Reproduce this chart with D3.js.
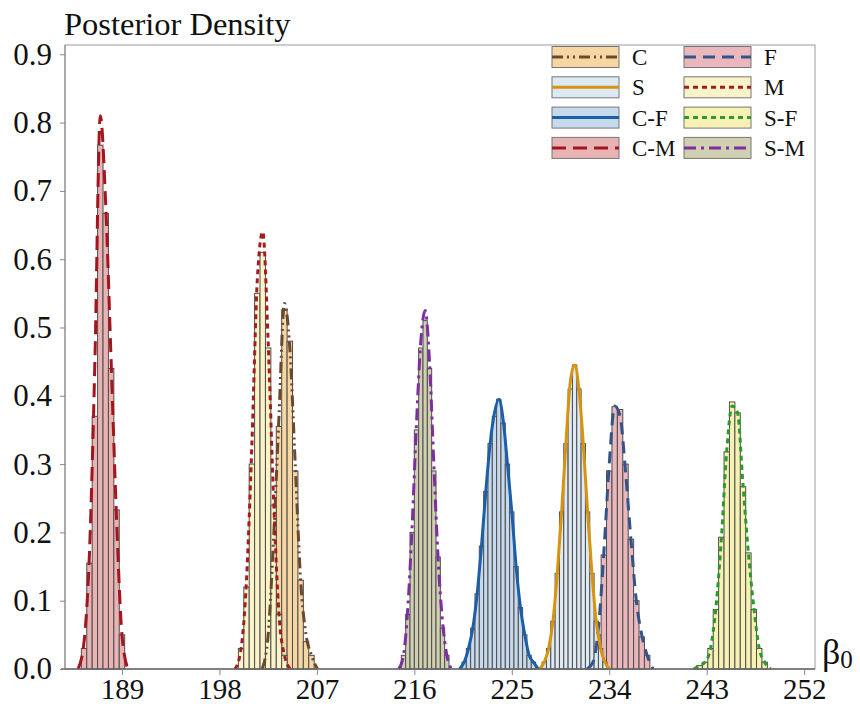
<!DOCTYPE html>
<html><head><meta charset="utf-8">
<script src="https://cdn.jsdelivr.net/npm/d3@7"></script>
<style>body{margin:0;background:#fff}text{font-family:"Liberation Serif","Times New Roman",serif;fill:#111}</style>
</head><body>
<svg id="chart" width="860" height="704"></svg>
<script>
// Posterior density of the intercept β0 under each model: binned draws plus a smoothed density line.
const seriesNames = ["C", "F", "S", "M", "C-F", "S-F", "C-M", "S-M"];
const binStarts   = [202.25, 232.25, 227.8, 199.75, 220.4, 242.1, 185.25, 214.8];
const binWidths   = [0.5, 0.5, 0.4, 0.5, 0.4, 0.5, 0.5, 0.4];

// bar heights (density) per series, left to right
const barsC  = [0.05, 0.20, 0.355, 0.526, 0.48, 0.29, 0.13, 0.04, 0.02];
const barsF  = [0.01, 0.05, 0.167, 0.29, 0.384, 0.38, 0.30, 0.19, 0.10, 0.047, 0.02];
const barsS  = [0.01, 0.03, 0.07, 0.14, 0.23, 0.33, 0.41, 0.445, 0.41, 0.33, 0.23, 0.14, 0.07, 0.03, 0.01];
const barsM  = [0.03, 0.12, 0.30, 0.55, 0.61, 0.47, 0.24, 0.08, 0.02];
const barsCF = [0.01, 0.03, 0.06, 0.11, 0.18, 0.26, 0.33, 0.37, 0.395, 0.36, 0.30, 0.23, 0.15, 0.09, 0.05, 0.02, 0.01];
const barsSF = [0.005, 0.01, 0.03, 0.087, 0.193, 0.318, 0.391, 0.375, 0.267, 0.17, 0.087, 0.03, 0.01];
const barsCM = [0.03, 0.155, 0.37, 0.767, 0.667, 0.44, 0.233, 0.05];
const barsSM = [0.02, 0.08, 0.20, 0.35, 0.47, 0.51, 0.44, 0.29, 0.164, 0.06, 0.02];

// smoothed density evaluated at each bin centre
const curveC  = [0.05, 0.19, 0.37, 0.535, 0.47, 0.30, 0.13, 0.05, 0.02];
const curveF  = [0.01, 0.06, 0.17, 0.30, 0.385, 0.37, 0.29, 0.19, 0.10, 0.05, 0.02];
const curveS  = [0.01, 0.03, 0.07, 0.14, 0.23, 0.33, 0.42, 0.445, 0.41, 0.33, 0.23, 0.14, 0.07, 0.03, 0.01];
const curveM  = [0.03, 0.13, 0.33, 0.57, 0.64, 0.48, 0.25, 0.08, 0.02];
const curveCF = [0.01, 0.03, 0.06, 0.11, 0.18, 0.26, 0.33, 0.375, 0.395, 0.365, 0.30, 0.23, 0.15, 0.09, 0.05, 0.02, 0.01];
const curveSF = [0.005, 0.01, 0.03, 0.09, 0.19, 0.32, 0.385, 0.375, 0.27, 0.17, 0.09, 0.03, 0.01];
const curveCM = [0.04, 0.17, 0.45, 0.81, 0.68, 0.45, 0.22, 0.05];
const curveSM = [0.02, 0.09, 0.21, 0.36, 0.48, 0.525, 0.45, 0.30, 0.16, 0.07, 0.02];

const xTicks = [189, 198, 207, 216, 225, 234, 243, 252];
const yTicks = [0, 0.1, 0.2, 0.3, 0.4, 0.5, 0.6, 0.7, 0.8, 0.9];

const fills  = ["#f6d7a3", "#e9b7bc", "#dde9f3", "#fbf4c9", "#c7d9ed", "#f8f1b4", "#e8b3b3", "#cfcfb1"];
const lines  = ["#6a4a2e", "#33548a", "#d8930f", "#a31d1d", "#1d5ea9", "#2c9a2a", "#a3151f", "#7e2e9e"];
const dashes = ["11,4,2,4,2,4", "12,7", null, "5,4", null, "5,4", "14,7", "12,5,3,5"];

const barSets   = [barsC, barsF, barsS, barsM, barsCF, barsSF, barsCM, barsSM];
const curveSets = [curveC, curveF, curveS, curveM, curveCF, curveSF, curveCM, curveSM];

const series = seriesNames.map((name, i) => {
  const w = binWidths[i], lo = binStarts[i];
  const bins = barSets[i].map((h, k) => ({x0: lo + k * w, x1: lo + (k + 1) * w, h}));
  const n = curveSets[i].length;
  const pts = [{x: lo - 0.6 * w, y: 0}]
    .concat(curveSets[i].map((v, k) => ({x: lo + (k + 0.5) * w, y: v})))
    .concat([{x: lo + (n + 0.6) * w, y: 0}]);
  return {name, bins, pts, fill: fills[i], line: lines[i], dash: dashes[i]};
});

const svg = d3.select("#chart");
const pLeft = 65, pRight = 815, pTop = 45, pBottom = 669;
const x = d3.scaleLinear().domain([183.74, 253.0]).range([pLeft, pRight]);
const y = d3.scaleLinear().domain([0, 0.9136]).range([pBottom, pTop]);

// frame
svg.append("rect").attr("x", pLeft).attr("y", pTop).attr("width", pRight - pLeft).attr("height", pBottom - pTop)
  .attr("fill", "none").attr("stroke", "#9a9a9a").attr("stroke-width", 1);

const plot = svg.append("g");

// histogram bars
series.forEach(s => {
  plot.append("g").selectAll("rect").data(s.bins).join("rect")
    .attr("x", d => x(d.x0)).attr("width", d => x(d.x1) - x(d.x0))
    .attr("y", d => y(d.h)).attr("height", d => y(0) - y(d.h))
    .attr("fill", s.fill).attr("stroke", "#4d4d4d").attr("stroke-width", 1);
});

// density lines
const lineGen = d3.line().x(d => x(d.x)).y(d => y(d.y)).curve(d3.curveMonotoneX);
series.forEach(s => {
  plot.append("path").datum(s.pts).attr("d", lineGen)
    .attr("fill", "none").attr("stroke", s.line).attr("stroke-width", 3)
    .attr("stroke-dasharray", s.dash);
});

// axes
const xAxis = d3.axisBottom(x).tickValues(xTicks).tickSize(6).tickPadding(3).tickFormat(d3.format("d"));
const gx = svg.append("g").attr("transform", `translate(0,${pBottom})`).call(xAxis);
gx.select(".domain").attr("stroke", "#666").attr("stroke-width", 1.5).attr("d", `M${pLeft - 4},0H${pRight}`);
gx.selectAll(".tick line").attr("stroke", "#888");
gx.selectAll(".tick text").style("font-size", "29px").style("font-family", "Liberation Serif").attr("fill", "#111");

const yAxis = d3.axisLeft(y).tickValues(yTicks).tickSize(5).tickPadding(8).tickFormat(d3.format(".1f"));
const gy = svg.append("g").attr("transform", `translate(${pLeft},0)`).call(yAxis);
gy.select(".domain").attr("stroke", "#888").attr("d", `M0,${pBottom}V${pTop}`);
gy.selectAll(".tick line").attr("stroke", "#888");
gy.selectAll(".tick text").style("font-size", "31px").style("font-family", "Liberation Serif").attr("fill", "#111");

// axis titles
svg.append("text").attr("x", 64).attr("y", 35).style("font-size", "32.5px").text("Posterior Density");
const bt = svg.append("text").attr("x", 822).attr("y", 664).style("font-size", "36px");
bt.append("tspan").text("β");
bt.append("tspan").attr("dy", 4).style("font-size", "25px").text("0");

// legend: two columns, filled swatch with the line style across it
const legend = svg.append("g");
series.forEach((s, i) => {
  const col = i % 2, row = Math.floor(i / 2);
  const lx = col === 0 ? 552 : 684;
  const cy = 57 + row * 30.3;
  const g = legend.append("g");
  g.append("rect").attr("x", lx).attr("y", cy - 10.5).attr("width", 67).attr("height", 21)
    .attr("fill", s.fill).attr("stroke", "#777").attr("stroke-width", 1);
  g.append("line").attr("x1", lx).attr("x2", lx + 67).attr("y1", cy).attr("y2", cy)
    .attr("stroke", s.line).attr("stroke-width", 3).attr("stroke-dasharray", s.dash);
  g.append("text").attr("x", lx + 80).attr("y", cy + 8).style("font-size", "23px").text(s.name);
});
</script>
</body></html>
